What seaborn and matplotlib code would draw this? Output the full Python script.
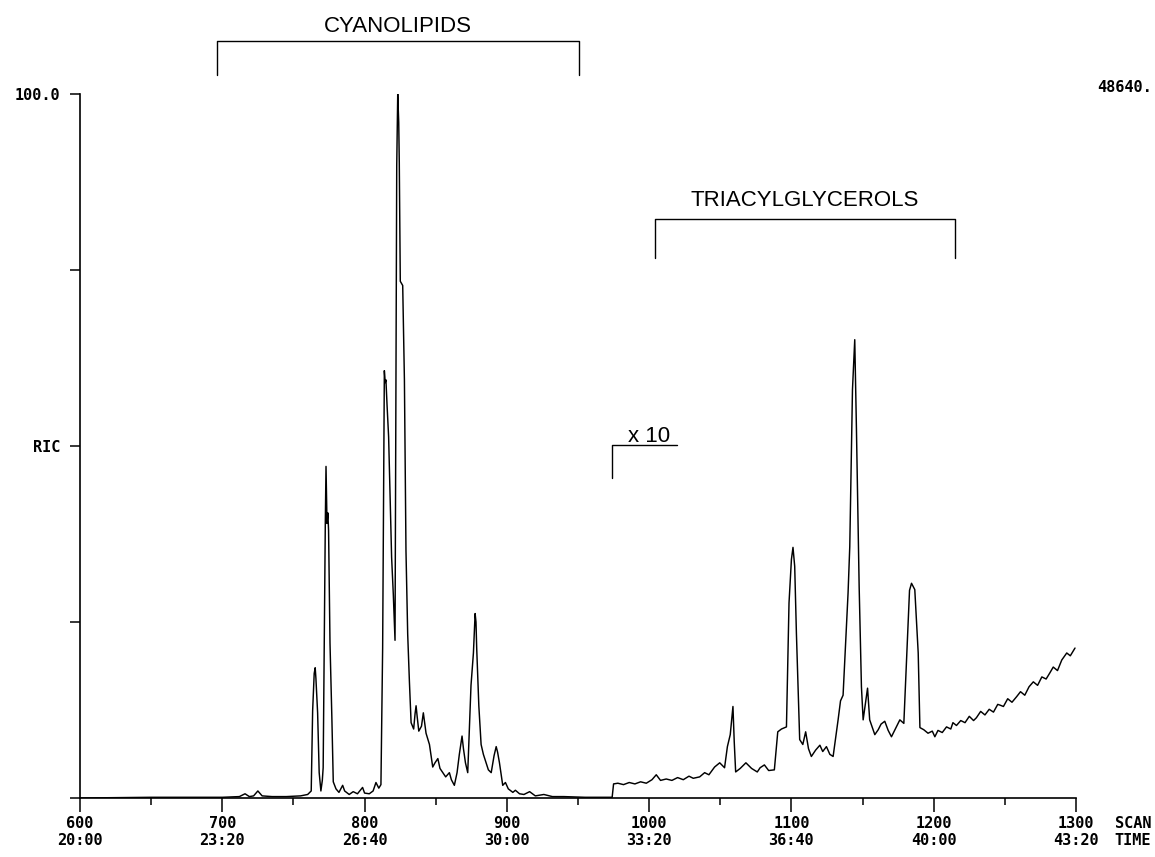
import matplotlib
matplotlib.use("Agg")
import matplotlib.pyplot as plt
import pandas as pd
import seaborn as sns

# Reconstructed ion current trace (percent of full scale); scans after 974 are shown at x10 gain
scan = [
    600, 650, 700, 712, 716, 719, 722, 725, 728, 735, 745, 755, 760,
    762.5, 763.5, 764.6, 765.3, 765.8, 767.0, 768.1, 769.3, 770.3, 770.9,
    771.7, 772.4, 772.9, 773.6, 774.2, 774.7, 775.7, 777.0, 778.0, 779.9,
    782, 784.6, 786, 789.2, 792, 795, 798.6, 800, 803.3, 806, 808, 810, 811.5,
    812.7, 813.4, 813.9, 814.5, 815.0, 815.8, 816.9, 817.9, 819.0, 820.2, 821.4,
    822.1, 822.6, 823.3, 824.0, 824.4, 825.1, 826.8, 828.0, 829.1, 830.3, 831.5,
    832.7, 834.5, 835.5, 836.2, 837, 838.1, 840, 841.3, 843.2, 845.6, 847.9,
    849.5, 851.5, 853, 855, 857, 859.6, 861, 863.1, 865, 866.6, 868.5, 869.5,
    870.9, 872.5, 874.8, 876.5, 877.7, 878.3, 878.8, 880.3, 881.9, 883.5, 885.4,
    887, 889, 891, 892.5, 893.5, 894.8, 897.1, 899, 901, 904.2, 906, 908.9, 912,
    916, 920, 926, 932, 940, 955, 974,
    975, 978, 982, 986, 990, 994, 998, 1002, 1005, 1008, 1012, 1016, 1020, 1024,
    1028, 1031, 1035.5, 1039, 1042, 1046, 1049.6, 1053, 1055, 1057, 1058.9,
    1059.8, 1060.8, 1064, 1068, 1072, 1076, 1078, 1081, 1084, 1088, 1090.4, 1093,
    1096.5, 1098.3, 1100, 1101.1, 1102.3, 1103.5, 1105.8, 1108, 1110, 1112, 1114,
    1117, 1120, 1122, 1124.6, 1127, 1129.3, 1132.8, 1134.5, 1136.3, 1139.8, 1141,
    1142.9, 1144.5, 1145.7, 1147.6, 1149.2, 1150.4, 1153.5, 1155, 1158.6, 1161,
    1163, 1165.6, 1168, 1170.3, 1173, 1176.2, 1179, 1181.3, 1183, 1184.4, 1186.7,
    1189.1, 1190.3, 1193, 1196, 1199, 1200.8, 1203, 1206, 1209, 1212, 1213.5,
    1216, 1219, 1222, 1225, 1228, 1230, 1233, 1236, 1239, 1242, 1245, 1246.5,
    1249, 1252, 1255, 1258.3, 1261, 1264, 1267, 1270, 1273, 1276, 1279, 1281.7,
    1284, 1287, 1290, 1293.5, 1296, 1299.3,
]
ric = [
    0.0, 0.1, 0.1, 0.2, 0.6, 0.2, 0.3, 1.0, 0.3, 0.2, 0.2, 0.3, 0.5,
    1.0, 12.4, 17.7, 18.5, 17.0, 12.1, 3.6, 1.0, 2.5, 4.3,
    23.3, 39.0, 47.1, 39.0, 40.5, 38.0, 22.0, 11.5, 2.3, 1.3,
    0.8, 1.8, 1.0, 0.5, 0.9, 0.6, 1.5, 0.7, 0.6, 1.0, 2.2, 1.4, 1.9,
    21.3, 45.0, 60.7, 59.0, 59.4, 55.8, 51.3, 43.4, 34.2, 28.9, 22.4,
    59.4, 89.8, 100.0, 96.0, 90.2, 73.4, 72.8, 59.4, 35.1, 23.3, 16.6,
    10.7, 9.8, 12.0, 13.1, 11.5, 9.5, 10.2, 12.1, 9.2, 7.6, 4.4,
    5.0, 5.6, 4.2, 3.6, 3.0, 3.6, 2.6, 1.8, 3.6, 6.2, 8.8, 7.0,
    5.0, 3.6, 16.0, 20.6, 26.2, 25.0, 21.3, 13.1, 7.6, 6.2, 5.0,
    4.0, 3.6, 6.0, 7.3, 6.5, 5.0, 1.8, 2.2, 1.3, 0.8, 1.1, 0.6, 0.5,
    0.9, 0.3, 0.5, 0.2, 0.2, 0.1, 0.1,
    2.0, 2.1, 1.9, 2.2, 2.0, 2.3, 2.1, 2.6, 3.3, 2.5, 2.7, 2.5, 2.9, 2.6,
    3.1, 2.8, 3.0, 3.6, 3.3, 4.4, 5.0, 4.3, 7.3, 9.0, 13.0,
    8.0, 3.7, 4.2, 5.0, 4.2, 3.7, 4.3, 4.7, 3.9, 4.0, 9.4, 9.8,
    10.1, 27.7, 33.9, 35.6, 32.9, 23.4, 8.3, 7.6, 9.4, 7.0, 5.9,
    6.8, 7.5, 6.6, 7.3, 6.2, 5.9, 11.1, 13.8, 14.6, 29.1, 35.7,
    58.0, 65.1, 52.3, 30.0, 15.8, 11.1, 15.6, 11.1, 9.0, 9.7,
    10.5, 10.9, 9.6, 8.7, 9.8, 11.1, 10.6, 21.5, 29.5, 30.5, 29.6,
    20.6, 10.0, 9.7, 9.2, 9.5, 8.7, 9.6, 9.3, 10.1, 9.8, 10.7,
    10.3, 11.0, 10.7, 11.6, 11.0, 11.4, 12.3, 11.8, 12.6, 12.2, 13.3, 13.2,
    13.0, 14.1, 13.6, 14.4, 15.1, 14.6, 15.8, 16.5, 16.0, 17.2, 16.9, 17.8,
    18.6, 18.1, 19.6, 20.6, 20.2, 21.3,
]

# Axis labelling
scan_ticks = [600, 700, 800, 900, 1000, 1100, 1200, 1300]
time_labels = ["20:00", "23:20", "26:40", "30:00", "33:20", "36:40", "40:00", "43:20"]
full_scale = "48640."

# Compound classes and their scan ranges
groups = ["CYANOLIPIDS", "TRIACYLGLYCEROLS"]
group_start = [696, 1004]
group_end = [951, 1215]

# Gain change
gain_scan = 974
gain_label = "x 10"

sns.set_theme(style="white")
plt.rcParams["font.family"] = ["DejaVu Sans"]
plt.rcParams["text.color"] = "black"
plt.rcParams["xtick.color"] = "black"
plt.rcParams["ytick.color"] = "black"
plt.rcParams["axes.labelcolor"] = "black"

mono = dict(family="DejaVu Sans Mono", weight="bold", size=11, color="black")
sans = dict(family="Liberation Sans", size=16, color="black")

fig = plt.figure(figsize=(11.55, 8.57), dpi=100)
ax = fig.add_axes([80 / 1155, 1 - 798 / 857, 996 / 1155, 704 / 857])

df = pd.DataFrame({"scan": scan, "ric": ric})
sns.lineplot(data=df, x="scan", y="ric", ax=ax, color="black",
             linewidth=1.05, sort=False, estimator=None)

ax.set_xlim(600, 1300)
ax.set_ylim(0, 100)
ax.set_xlabel("")
ax.set_ylabel("")

for side in ("top", "right"):
    ax.spines[side].set_visible(False)
for side in ("left", "bottom"):
    ax.spines[side].set_color("black")
    ax.spines[side].set_linewidth(1.2)

ax.set_xticks(scan_ticks)
ax.set_xticklabels([f"{s}\n{t}" for s, t in zip(scan_ticks, time_labels)],
                   fontdict=mono, linespacing=1.2)
ax.set_xticks([650, 750, 850, 950, 1050, 1150, 1250], minor=True)
ax.tick_params(axis="x", which="major", direction="out", length=10, width=1.1,
               color="black", pad=3, bottom=True)
ax.tick_params(axis="x", which="minor", direction="out", length=5, width=1.1,
               color="black", bottom=True)

ax.set_yticks([0, 25, 50, 75, 100])
ax.set_yticklabels(["", "", "RIC", "", "100.0"], fontdict=mono)
ax.tick_params(axis="y", direction="out", length=7, width=1.1, color="black",
               pad=7, left=True)

# SCAN / TIME legend under the right end of the axis
fig.text(1133 / 1155, 1 - 816 / 857, "SCAN\nTIME", ha="center", va="top",
         linespacing=1.2, **mono)
fig.text(1152 / 1155, 1 - 88 / 857, full_scale, ha="right", va="center", **mono)

# Brackets marking compound classes
bracket_top = [107.5, 82.2]
bracket_foot = [102.7, 76.7]
label_y = [109.6, 84.9]
for name, x0, x1, yt, yf, ly in zip(groups, group_start, group_end,
                                     bracket_top, bracket_foot, label_y):
    ax.plot([x0, x0, x1, x1], [yf, yt, yt, yf], color="black", lw=1.0,
            clip_on=False)
    ax.text((x0 + x1) / 2, ly, name, ha="center", va="center", **sans)

# Gain-change marker
ax.plot([gain_scan, gain_scan, gain_scan + 45.5], [45.5, 50.1, 50.1],
        color="black", lw=1.0, clip_on=False)
ax.text(gain_scan + 26, 49.9, gain_label, ha="center", va="bottom", **sans)

fig.savefig("out.png", dpi=100, facecolor="white")
